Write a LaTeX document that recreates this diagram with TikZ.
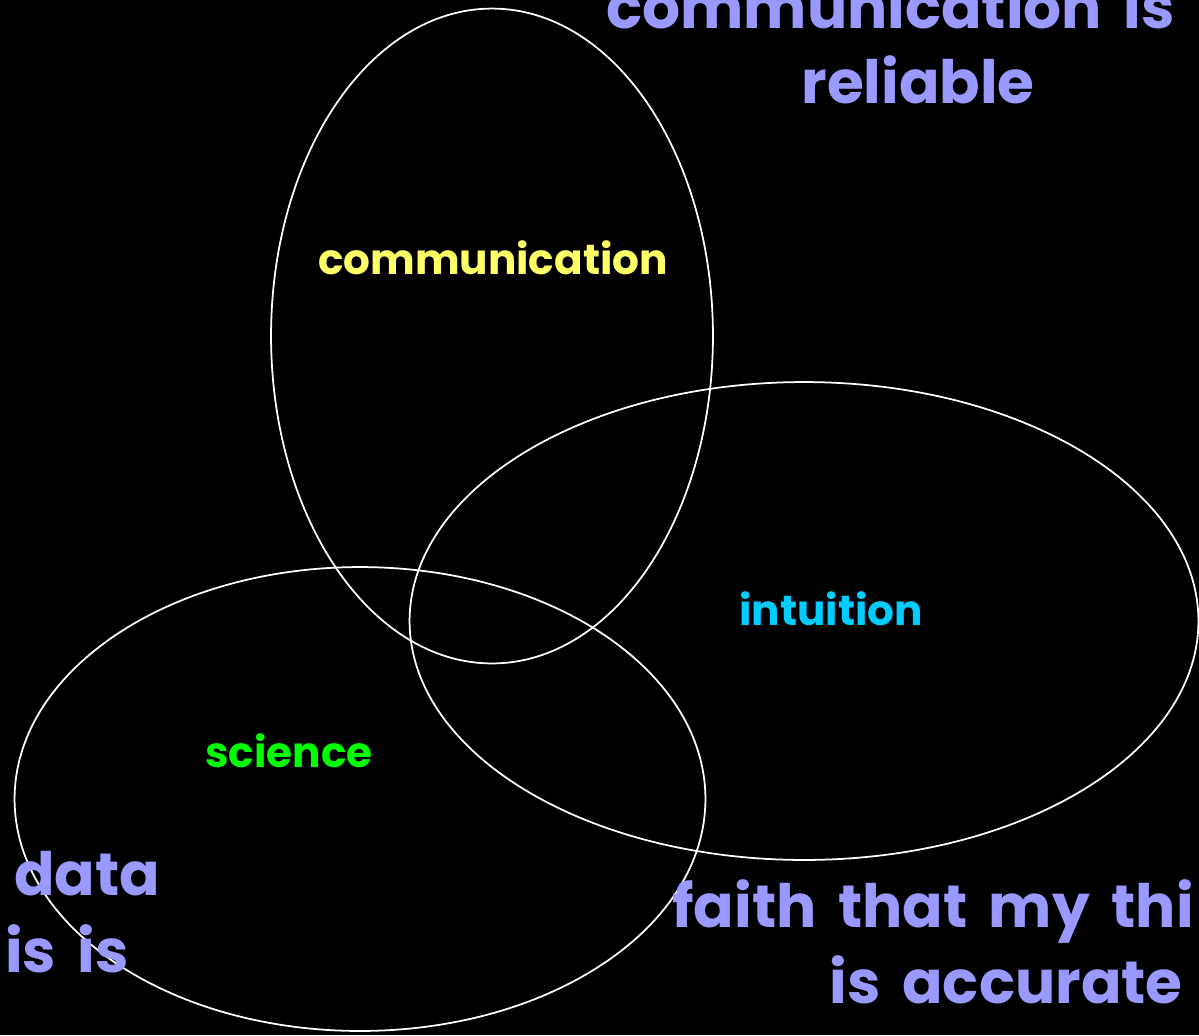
\documentclass[tikz,border=0pt]{standalone}
\usepackage{fontspec}
\setmainfont{Poppins}[WordSpace=1.7]
\usetikzlibrary{shapes.geometric}

\definecolor{setyellow}{HTML}{FFFF66}
\definecolor{setcyan}{HTML}{00CCFF}
\definecolor{setgreen}{HTML}{00FF00}
\definecolor{lavender}{HTML}{9999FF}

\tikzset{
  set/.style={draw=white, line width=1pt, ellipse, inner sep=0pt},
  setlabel/.style={font=\fontsize{24}{28}\selectfont\bfseries, inner sep=0pt},
  claim/.style={font=\fontsize{34}{40}\selectfont\bfseries, text=lavender, inner sep=0pt}
}

\begin{document}
\begin{tikzpicture}[x=0.02cm, y=-0.02cm]
    \useasboundingbox (0,0) rectangle (1199,1035);
    \clip (0,0) rectangle (1199,1035);
    \fill[black] (0,0) rectangle (1199,1035);

    % les trois ensembles
    \node (comm) [set, minimum width=8.84cm, minimum height=13.1cm] at (492,336) {};
    \node (intu) [set, minimum width=15.78cm, minimum height=9.56cm] at (804,621) {};
    \node (scie) [set, minimum width=13.82cm, minimum height=9.28cm] at (360,799) {};

    % noms des ensembles
    \node (commlabel) [setlabel, text=setyellow] at (493,258) {communication};
    \node (intulabel) [setlabel, text=setcyan] at (831,609) {intuition};
    \node (scielabel) [setlabel, text=setgreen] at (289,751) {science};

    % hypotheses
    \node (reliable1) [claim, anchor=base east] at (1175,28) {communication is};
    \node (reliable2) [claim, anchor=base] at (918,103) {reliable};
    \node (data1) [claim, anchor=base west] at (14,895) {data};
    \node (data2) [claim, anchor=base west] at (5,972) {is is};
    \node (faith1) [claim, anchor=base west] at (672,927) {faith that my thi};
    \node (faith2) [claim, anchor=base east] at (1183,1003) {is accurate};
\end{tikzpicture}
\end{document}
